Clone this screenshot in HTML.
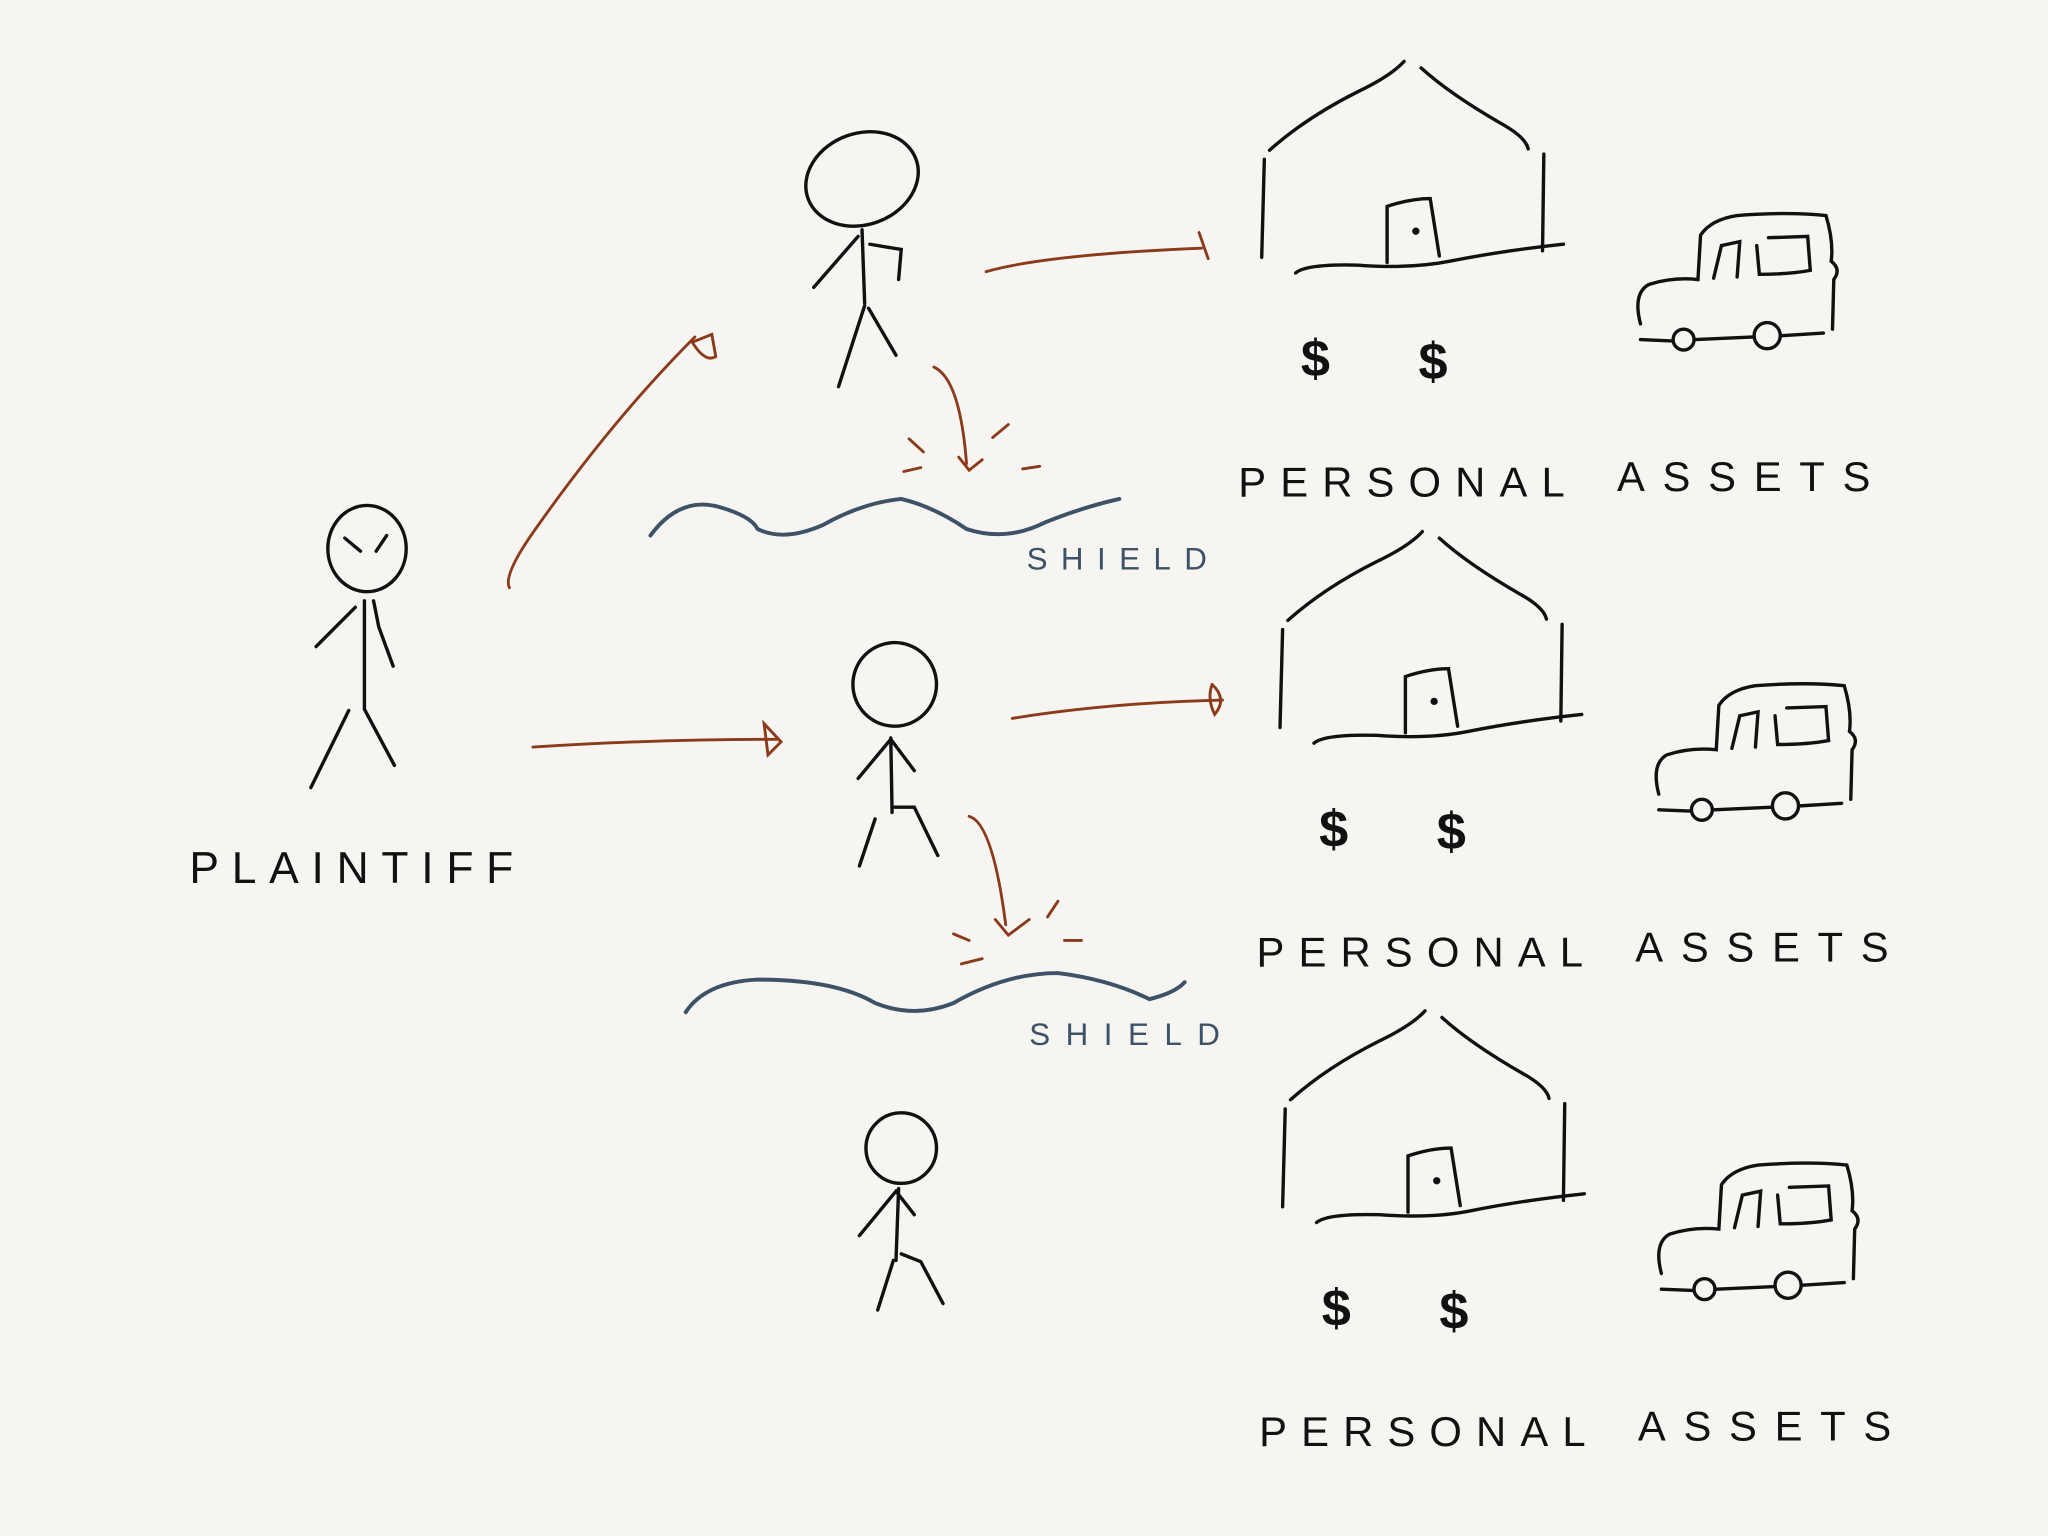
<!DOCTYPE html>
<html><head><meta charset="utf-8"><style>
html,body{margin:0;padding:0;background:#f6f5f1;}
svg{display:block;}
text{font-family:"Liberation Sans",sans-serif;}
</style></head><body>
<svg width="2048" height="1536" viewBox="0 0 1568 1176" xmlns="http://www.w3.org/2000/svg">
<rect width="1568" height="1176" fill="#f6f5f1"/>
<defs>
<g id="house" fill="none" stroke="#111" stroke-width="2.6" stroke-linecap="round">
  <path d="M972,115 Q1000,90 1040,70 Q1065,58 1075,47"/>
  <path d="M1088,52 Q1110,72 1150,95 Q1168,105 1170,114"/>
  <path d="M968,122 L966,197"/>
  <path d="M1182,118 L1181,192"/>
  <path d="M992,209 Q1000,202 1040,203 Q1080,206 1110,200 Q1150,192 1197,187"/>
  <path d="M1062,201 L1062,158 Q1080,152 1095,152 L1102,196"/>
  <circle cx="1084" cy="177" r="1.5" fill="#111"/>
  <text x="996" y="288" font-size="40" font-weight="bold" fill="#111" stroke="none">$</text>
  <text x="1086" y="290" font-size="40" font-weight="bold" fill="#111" stroke="none">$</text>
  <path d="M1256,248 Q1250,225 1262,218 Q1280,212 1300,214 L1302,180 Q1310,168 1330,165 Q1370,162 1398,165 Q1404,185 1402,200 Q1410,206 1404,214 L1403,252"/>
  <path d="M1312,213 L1318,188 L1332,185 L1330,212"/>
  <path d="M1345,188 L1347,210 Q1370,210 1386,207 L1384,181 L1354,182"/>
  <path d="M1256,260 L1280,261"/><circle cx="1289" cy="260" r="8"/>
  <path d="M1298,260 L1343,258"/><circle cx="1353" cy="257" r="10"/>
  <path d="M1364,257 L1396,255"/>
</g>
<g id="lbl" font-size="32" fill="#111">
  <text x="948" y="380" textLength="250" lengthAdjust="spacing">PERSONAL</text>
  <text x="1238" y="376" textLength="194" lengthAdjust="spacing">ASSETS</text>
</g>
</defs>

<!-- plaintiff -->
<g fill="none" stroke="#111" stroke-width="2.6" stroke-linecap="round">
  <ellipse cx="281" cy="420" rx="30" ry="33"/>
  <path d="M264,412 L276,422 M296,410 L288,422"/>
  <path d="M279,460 L279,542"/>
  <path d="M242,495 L272,465"/>
  <path d="M286,460 L290,480 L301,510"/>
  <path d="M267,544 L238,603"/>
  <path d="M279,543 L302,586"/>
</g>
<text x="145" y="676" font-size="34" fill="#111" textLength="248" lengthAdjust="spacing">PLAINTIFF</text>

<g fill="none" stroke="#111" stroke-width="2.6" stroke-linecap="round">
<!-- person 1 -->
<ellipse cx="660" cy="137" rx="44" ry="35" transform="rotate(-20 660 137)"/>
<path d="M660,176 L662,232"/>
<path d="M623,220 L657,181"/>
<path d="M666,187 L690,191 L688,214"/>
<path d="M662,234 L642,296"/>
<path d="M665,236 L686,272"/>
<!-- person 2 -->
<ellipse cx="685" cy="524" rx="32" ry="32"/>
<path d="M682,565 L683,622"/>
<path d="M657,596 L682,566 L700,590"/>
<path d="M670,627 L658,663"/>
<path d="M685,618 L700,618 L718,655"/>
<!-- person 3 -->
<ellipse cx="690" cy="879" rx="27" ry="27"/>
<path d="M688,910 L686,965"/>
<path d="M658,946 L686,912 L700,930"/>
<path d="M684,965 L672,1003"/>
<path d="M690,960 L705,966 L722,998"/>
</g>

<!-- houses -->
<use href="#house"/>
<use href="#house" transform="translate(14,360)"/>
<use href="#house" transform="translate(16,727)"/>
<use href="#lbl"/>
<use href="#lbl" transform="translate(14,360)"/>
<use href="#lbl" transform="translate(16,727)"/>

<!-- shields -->
<g fill="none" stroke="#3d5266" stroke-width="3" stroke-linecap="round">
  <path d="M498,410 Q520,380 550,388 Q575,395 580,405 Q600,415 630,402 Q660,385 690,382 Q715,388 740,405 Q770,415 800,400 Q830,388 857,382"/>
  <path d="M525,775 Q540,752 580,750 Q640,750 670,768 Q700,780 730,768 Q770,745 810,745 Q850,750 880,765 Q900,760 907,752"/>
</g>
<g font-size="24" fill="#3d5266">
<text x="786" y="436" textLength="138" lengthAdjust="spacing">SHIELD</text>
<text x="788" y="800" textLength="146" lengthAdjust="spacing">SHIELD</text>
</g>

<!-- arrows -->
<g fill="none" stroke="#8b3a1a" stroke-width="2.2" stroke-linecap="round">
  <path d="M390,450 Q385,440 410,405 Q470,320 532,258"/>
  <path d="M530,262 L545,256 L548,273 Q540,278 530,262"/>
  <path d="M755,208 Q800,195 920,190"/>
  <path d="M918,178 L925,198"/>
  <path d="M408,572 Q500,566 596,566"/>
  <path d="M585,554 L598,568 L588,578 Z"/>
  <path d="M775,550 Q850,538 936,536"/>
  <path d="M928,524 Q940,535 930,547 Q924,535 928,524"/>
  <path d="M715,281 Q735,290 740,355"/>
  <path d="M734,350 L742,360 L752,352"/>
  <path d="M696,336 L707,346 M692,361 L705,358 M760,335 L772,325 M783,359 L796,357"/>
  <path d="M742,625 Q760,630 770,708"/>
  <path d="M762,704 L772,716 L788,704"/>
  <path d="M730,715 L742,720 M736,738 L752,734 M802,702 L810,690 M815,720 L828,720"/>
</g>
</svg>
</body></html>
